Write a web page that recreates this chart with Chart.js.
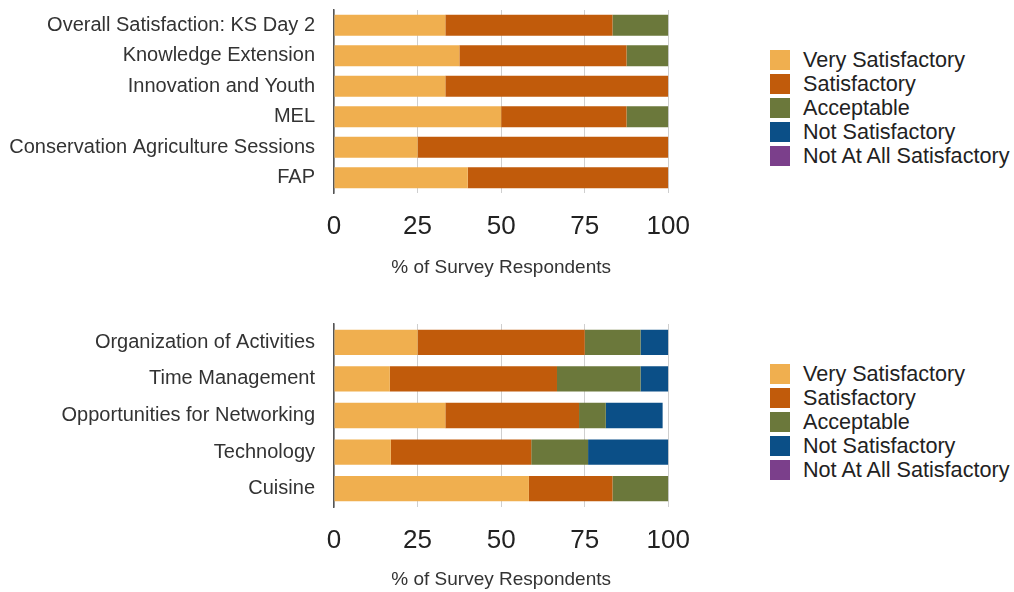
<!DOCTYPE html>
<html>
<head>
<meta charset="utf-8">
<script src="https://cdn.jsdelivr.net/npm/chart.js@4"></script>
<style>
  body { margin: 0; background: #fff; font-family: 'Liberation Sans', Arial, sans-serif; }
  .wrap { position: absolute; left: 0; }
  .legend { position: absolute; left: 770px; color: #222; font-size: 21.6px; }
  .legend div { display: flex; align-items: center; height: 24px; }
  .legend span.box { width: 20px; height: 20px; margin-right: 13px; flex: none; }
</style>
</head>
<body>
<div class="wrap" style="top:0"><canvas id="top" width="708" height="280"></canvas></div>
<div class="legend" id="legend-top" style="top:48px"></div>
<div class="wrap" style="top:296px"><canvas id="bottom" width="708" height="296"></canvas></div>
<div class="legend" id="legend-bottom" style="top:362px"></div>
<script>
const seriesNames = ['Very Satisfactory', 'Satisfactory', 'Acceptable', 'Not Satisfactory', 'Not At All Satisfactory'];
const seriesColors = ['#F0AF4F', '#C15B0B', '#6B783B', '#0B4F87', '#7B3F8B'];
const xTicks = [0, 25, 50, 75, 100];

// session ratings
const sessionLabels = ['Overall Satisfaction: KS Day 2', 'Knowledge Extension', 'Innovation and Youth', 'MEL', 'Conservation Agriculture Sessions', 'FAP'];
const sessionVerySat = [33.3, 37.5, 33.3, 50, 25, 40];
const sessionSat = [50, 50, 66.7, 37.5, 75, 60];
const sessionAcceptable = [16.7, 12.5, 0, 12.5, 0, 0];
const sessionNotSat = [0, 0, 0, 0, 0, 0];
const sessionNotAtAll = [0, 0, 0, 0, 0, 0];

// logistics ratings
const logisticsLabels = ['Organization of Activities', 'Time Management', 'Opportunities for Networking', 'Technology', 'Cuisine'];
const logisticsVerySat = [25, 16.7, 33.3, 17, 58.3];
const logisticsSat = [50, 50, 40, 42, 25];
const logisticsAcceptable = [16.7, 25, 8, 17, 16.7];
const logisticsNotSat = [8.3, 8.3, 17, 24, 0];
const logisticsNotAtAll = [0, 0, 0, 0, 0];

const font = 'Liberation Sans';

function makeChart(id, labels, series, padTop, axisHeight) {
    const ctx = document.getElementById(id).getContext('2d');
    return new Chart(ctx, {
        type: 'bar',
        data: {
            labels: labels,
            datasets: series.map((data, i) => ({
                label: seriesNames[i],
                data: data,
                backgroundColor: seriesColors[i],
                borderWidth: 0,
                barPercentage: 0.69,
                categoryPercentage: 1
            }))
        },
        options: {
            indexAxis: 'y',
            responsive: false,
            animation: false,
            devicePixelRatio: 1,
            layout: { padding: { left: 0, right: 24, top: padTop, bottom: 0 } },
            plugins: { legend: { display: false }, tooltip: { enabled: false } },
            scales: {
                x: {
                    stacked: true,
                    min: 0,
                    max: 100,
                    afterBuildTicks: s => { s.ticks = xTicks.map(v => ({ value: v })); },
                    afterFit: s => { s.height = axisHeight; },
                    grid: { color: '#cfcfcf', drawTicks: false },
                    border: { display: false },
                    ticks: { color: '#222', padding: 18, font: { family: font, size: 26 } },
                    title: {
                        display: true,
                        text: '% of Survey Respondents',
                        color: '#333',
                        font: { family: font, size: 19 },
                        padding: { top: 14, bottom: 1 }
                    }
                },
                y: {
                    stacked: true,
                    afterFit: s => { s.width = 334; },
                    grid: { display: false, drawTicks: true, tickLength: 19 },
                    border: { display: true, color: '#555', width: 1.5 },
                    ticks: { color: '#333', padding: 0, autoSkip: false, font: { family: font, size: 20, lineHeight: 1 } }
                }
            }
        }
    });
}

function buildLegend(elId, chart) {
    const el = document.getElementById(elId);
    chart.data.datasets.forEach(ds => {
        const row = document.createElement('div');
        const box = document.createElement('span');
        box.className = 'box';
        box.style.background = ds.backgroundColor;
        const txt = document.createElement('span');
        txt.textContent = ds.label;
        row.appendChild(box);
        row.appendChild(txt);
        el.appendChild(row);
    });
}

const topChart = makeChart('top', sessionLabels,
    [sessionVerySat, sessionSat, sessionAcceptable, sessionNotSat, sessionNotAtAll], 10, 87);
const bottomChart = makeChart('bottom', logisticsLabels,
    [logisticsVerySat, logisticsSat, logisticsAcceptable, logisticsNotSat, logisticsNotAtAll], 28, 85);

buildLegend('legend-top', topChart);
buildLegend('legend-bottom', bottomChart);
</script>
</body>
</html>
